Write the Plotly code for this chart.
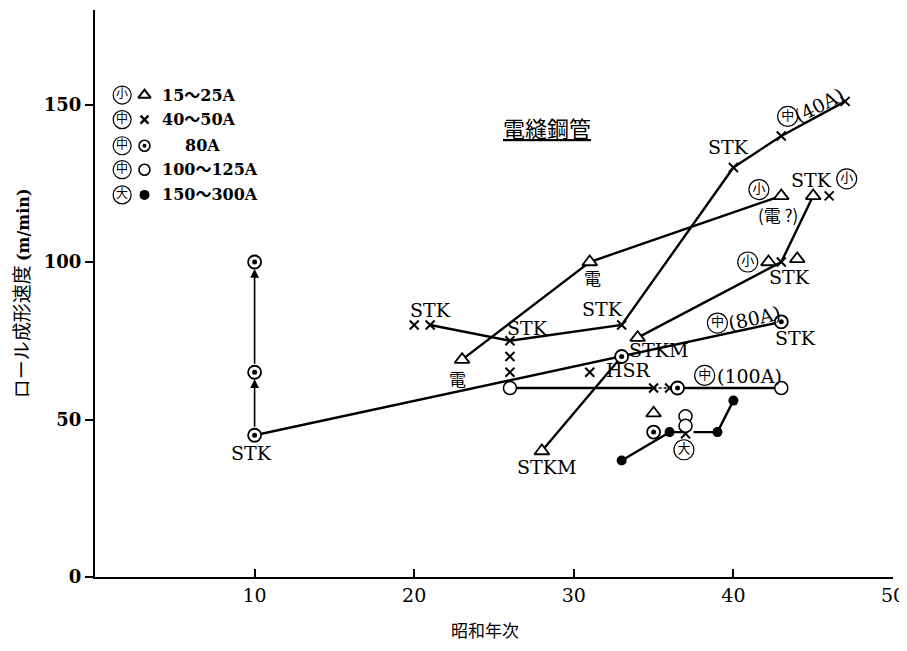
import plotly.graph_objects as go

# ---------------- data (昭和年次, ロール成形速度 m/min) ----------------
# markers by pipe size class
tri_x = [23, 31, 43, 34, 28, 42.2, 44, 45, 35]          # 小 △ 15~25A
tri_y = [69, 100, 121, 76, 40, 100, 101, 121, 52]
cross_x = [20, 21, 26, 26, 26, 33, 31, 40, 43, 47, 43, 46, 35, 36, 37]   # 中 × 40~50A
cross_y = [80, 80, 75, 70, 65, 80, 65, 130, 140, 151, 100, 121, 60, 60, 45.5]
dot_x = [10, 10, 10, 33, 43, 36.5, 35]                   # 中 ⊙ 80A
dot_y = [45, 65, 100, 70, 81, 60, 46]
open_x = [26, 43, 37, 37]                                # 中 ○ 100~125A
open_y = [60, 60, 51, 48]
fill_x = [33, 36, 39, 40]                                # 大 ● 150~300A
fill_y = [37, 46, 46, 56]

# connecting lines
line_80a_x = [10, 33, 43]
line_80a_y = [45, 70, 81]
line_den_x = [23, 31, 43]
line_den_y = [69, 100, 121]
line_40a_x = [21, 26, 33, 40, 43, 47]
line_40a_y = [80, 75, 80, 130, 140, 151]
line_stkm_x = [34, 43, 45]
line_stkm_y = [76, 100, 121]
line_hsr_x = [28, 33]
line_hsr_y = [40, 70]
line_100a_x = [26, 35]
line_100a_y = [60, 60]
line_100a_dash_x = [35, 36.5]
line_100a_dash_y = [60, 60]
line_100a_b_x = [36.5, 43]
line_100a_b_y = [60, 60]
line_big_x = [33, 36, 37]
line_big_y = [37, 46, 46]
line_big_b_x = [37.5, 39, 40]
line_big_b_y = [46, 46, 56]

# vertical development at 昭和10 (arrows)
arrow_from_y = [45, 65]
arrow_to_y = [65, 100]
arrow_x = 10

# labels
stk_labels = [("STK", 9.8, 39.5), ("STK", 21, 84.7), ("STK", 27.1, 79), ("STK", 31.8, 85),
              ("STK", 39.7, 136.6), ("STK", 44.9, 126), ("STK", 43.5, 95.3), ("STK", 43.9, 75.8),
              ("STKM", 35.3, 72), ("STKM", 28.3, 35), ("HSR", 33.4, 65.6)]
jp_labels = [("電", 22.7, 63), ("電", 31.2, 95.2), ("(電 ?)", 42.8, 115)]
size_labels = [("(40A)", 45.4, 149.7, -27), ("(80A)", 41.3, 82.3, -12), ("(100A)", 41.0, 63.8, 0)]
circ_chars = ["中", "小", "小", "小", "中", "中", "大"]
circ_x = [43.4, 41.6, 47.1, 40.9, 39.0, 38.2, 36.9]
circ_y = [146.2, 123, 126.4, 100, 80.6, 64, 40.4]

legend_circ = ["小", "中", "中", "中", "大"]
legend_text = ["15～25A", "40～50A", "80A", "100～125A", "150～300A"]
legend_y = [153, 145.2, 136.9, 129.3, 121.3]

x_ticks = [10, 20, 30, 40, 50]
y_ticks = [0, 50, 100, 150]

SERIF = "DejaVu Serif, Noto Sans CJK JP"
SANS = "Noto Sans CJK JP"
LW = 2.4

fig = go.Figure()


def add_line(xs, ys, dash="solid", width=LW):
    fig.add_trace(go.Scatter(x=xs, y=ys, mode="lines", line=dict(color="black", width=width, dash=dash),
                             hoverinfo="skip", showlegend=False, cliponaxis=False))


for xs, ys in [(line_80a_x, line_80a_y), (line_den_x, line_den_y), (line_40a_x, line_40a_y),
               (line_stkm_x, line_stkm_y), (line_hsr_x, line_hsr_y), (line_100a_x, line_100a_y),
               (line_100a_b_x, line_100a_b_y), (line_big_x, line_big_y), (line_big_b_x, line_big_b_y)]:
    add_line(xs, ys)
add_line(line_100a_dash_x, line_100a_dash_y, dash="3px,2px", width=1.5)

# markers
fig.add_trace(go.Scatter(x=cross_x, y=cross_y, mode="markers", showlegend=False,
                         marker=dict(symbol="x-thin", size=9, line=dict(color="black", width=2))))
fig.add_trace(go.Scatter(x=tri_x, y=tri_y, mode="markers", showlegend=False,
                         marker=dict(symbol="triangle-up", size=13, color="white",
                                     line=dict(color="black", width=1.8))))
fig.add_trace(go.Scatter(x=open_x, y=open_y, mode="markers", showlegend=False,
                         marker=dict(symbol="circle", size=13, color="white",
                                     line=dict(color="black", width=1.5))))
fig.add_trace(go.Scatter(x=dot_x, y=dot_y, mode="markers", showlegend=False,
                         marker=dict(symbol="circle", size=13, color="white",
                                     line=dict(color="black", width=1.8))))
fig.add_trace(go.Scatter(x=dot_x, y=dot_y, mode="markers", showlegend=False,
                         marker=dict(symbol="circle", size=5, color="black")))
fig.add_trace(go.Scatter(x=fill_x, y=fill_y, mode="markers", showlegend=False,
                         marker=dict(symbol="circle", size=10, color="black")))

# circled characters in the plot
fig.add_trace(go.Scatter(x=circ_x, y=circ_y, mode="markers+text", text=circ_chars,
                         textposition="middle center", showlegend=False,
                         textfont=dict(family=SANS, size=13, color="black"),
                         marker=dict(symbol="circle", size=20, color="rgba(255,255,255,0)",
                                     line=dict(color="black", width=1.2))))

# legend built inside the plot
fig.add_trace(go.Scatter(x=[1.7] * 5, y=legend_y, mode="markers+text", text=legend_circ,
                         textposition="middle center", showlegend=False,
                         textfont=dict(family=SANS, size=12, color="black"),
                         marker=dict(symbol="circle", size=18, color="rgba(255,255,255,0)",
                                     line=dict(color="black", width=1.2))))
fig.add_trace(go.Scatter(x=[3.1], y=[legend_y[0]], mode="markers", showlegend=False,
                         marker=dict(symbol="triangle-up", size=11, color="white",
                                     line=dict(color="black", width=2))))
fig.add_trace(go.Scatter(x=[3.1], y=[legend_y[1]], mode="markers", showlegend=False,
                         marker=dict(symbol="x-thin", size=8, line=dict(color="black", width=2.4))))
fig.add_trace(go.Scatter(x=[3.1], y=[legend_y[2]], mode="markers", showlegend=False,
                         marker=dict(symbol="circle", size=11, color="white",
                                     line=dict(color="black", width=1.6))))
fig.add_trace(go.Scatter(x=[3.1], y=[legend_y[2]], mode="markers", showlegend=False,
                         marker=dict(symbol="circle", size=4, color="black")))
fig.add_trace(go.Scatter(x=[3.1], y=[legend_y[3]], mode="markers", showlegend=False,
                         marker=dict(symbol="circle", size=11, color="white",
                                     line=dict(color="black", width=1.6))))
fig.add_trace(go.Scatter(x=[3.1], y=[legend_y[4]], mode="markers", showlegend=False,
                         marker=dict(symbol="circle", size=10, color="black")))

ann = []
for i, t in enumerate(legend_text):
    ann.append(dict(x=5.5 if t == "80A" else 4.1, y=legend_y[i], text=t, showarrow=False,
                    xanchor="left", yanchor="middle",
                    font=dict(family=SERIF, size=16, color="black", weight="bold")))

for t, x, y in stk_labels:
    ann.append(dict(x=x, y=y, text=t, showarrow=False,
                    font=dict(family=SERIF, size=19, color="black")))
for t, x, y in jp_labels:
    ann.append(dict(x=x, y=y, text=t, showarrow=False,
                    font=dict(family=SANS, size=17, color="black")))
for t, x, y, a in size_labels:
    ann.append(dict(x=x, y=y, text=t, showarrow=False, textangle=a,
                    font=dict(family=SERIF, size=19, color="black")))

# arrows at 昭和10
for y0, y1 in zip(arrow_from_y, arrow_to_y):
    ann.append(dict(x=arrow_x, y=y1, ax=arrow_x, ay=y0, xref="x", yref="y", axref="x", ayref="y",
                    showarrow=True, arrowhead=2, arrowsize=1.1, arrowwidth=1.6, arrowcolor="black",
                    standoff=7, startstandoff=7, text=""))

# title inside
ann.append(dict(x=28.3, y=143, text="<u>電縫鋼管</u>", showarrow=False,
                font=dict(family=SANS, size=22, color="black")))

# axis titles
ann.append(dict(xref="paper", yref="paper", x=-0.093, y=0.5, textangle=-90,
                text="ロール成形速度 <b><span style='font-family:DejaVu Serif;font-size:16px'>(m/min)</span></b>",
                showarrow=False, xanchor="center", yanchor="middle",
                font=dict(family=SANS, size=19, color="black")))
ann.append(dict(xref="paper", yref="paper", x=0.489, y=-0.092, text="昭和年次", showarrow=False,
                xanchor="center", yanchor="middle", font=dict(family=SANS, size=17, color="black")))

# the page body has an 8px margin, so the figure is sized/offset to compensate
fig.update_layout(
    width=899, height=635,
    margin=dict(l=87, r=14, t=2, b=66, autoexpand=False),
    paper_bgcolor="white", plot_bgcolor="white",
    showlegend=False,
    annotations=ann,
    xaxis=dict(range=[0, 50], tickvals=x_ticks, ticktext=[str(v) for v in x_ticks],
               showgrid=False, zeroline=False, showline=True, linecolor="black", linewidth=2,
               ticks="inside", ticklen=8, tickwidth=1.5, tickcolor="black", automargin=False,
               tickfont=dict(family=SERIF, size=19, color="black")),
    yaxis=dict(range=[0, 180], tickvals=y_ticks, ticktext=[str(v) for v in y_ticks],
               showgrid=False, zeroline=False, showline=True, linecolor="black", linewidth=2,
               ticks="outside", ticklen=8, tickwidth=2, tickcolor="black", automargin=False,
               tickfont=dict(family=SERIF, size=18, color="black", weight="bold")),
)

fig.write_html("out.html")
